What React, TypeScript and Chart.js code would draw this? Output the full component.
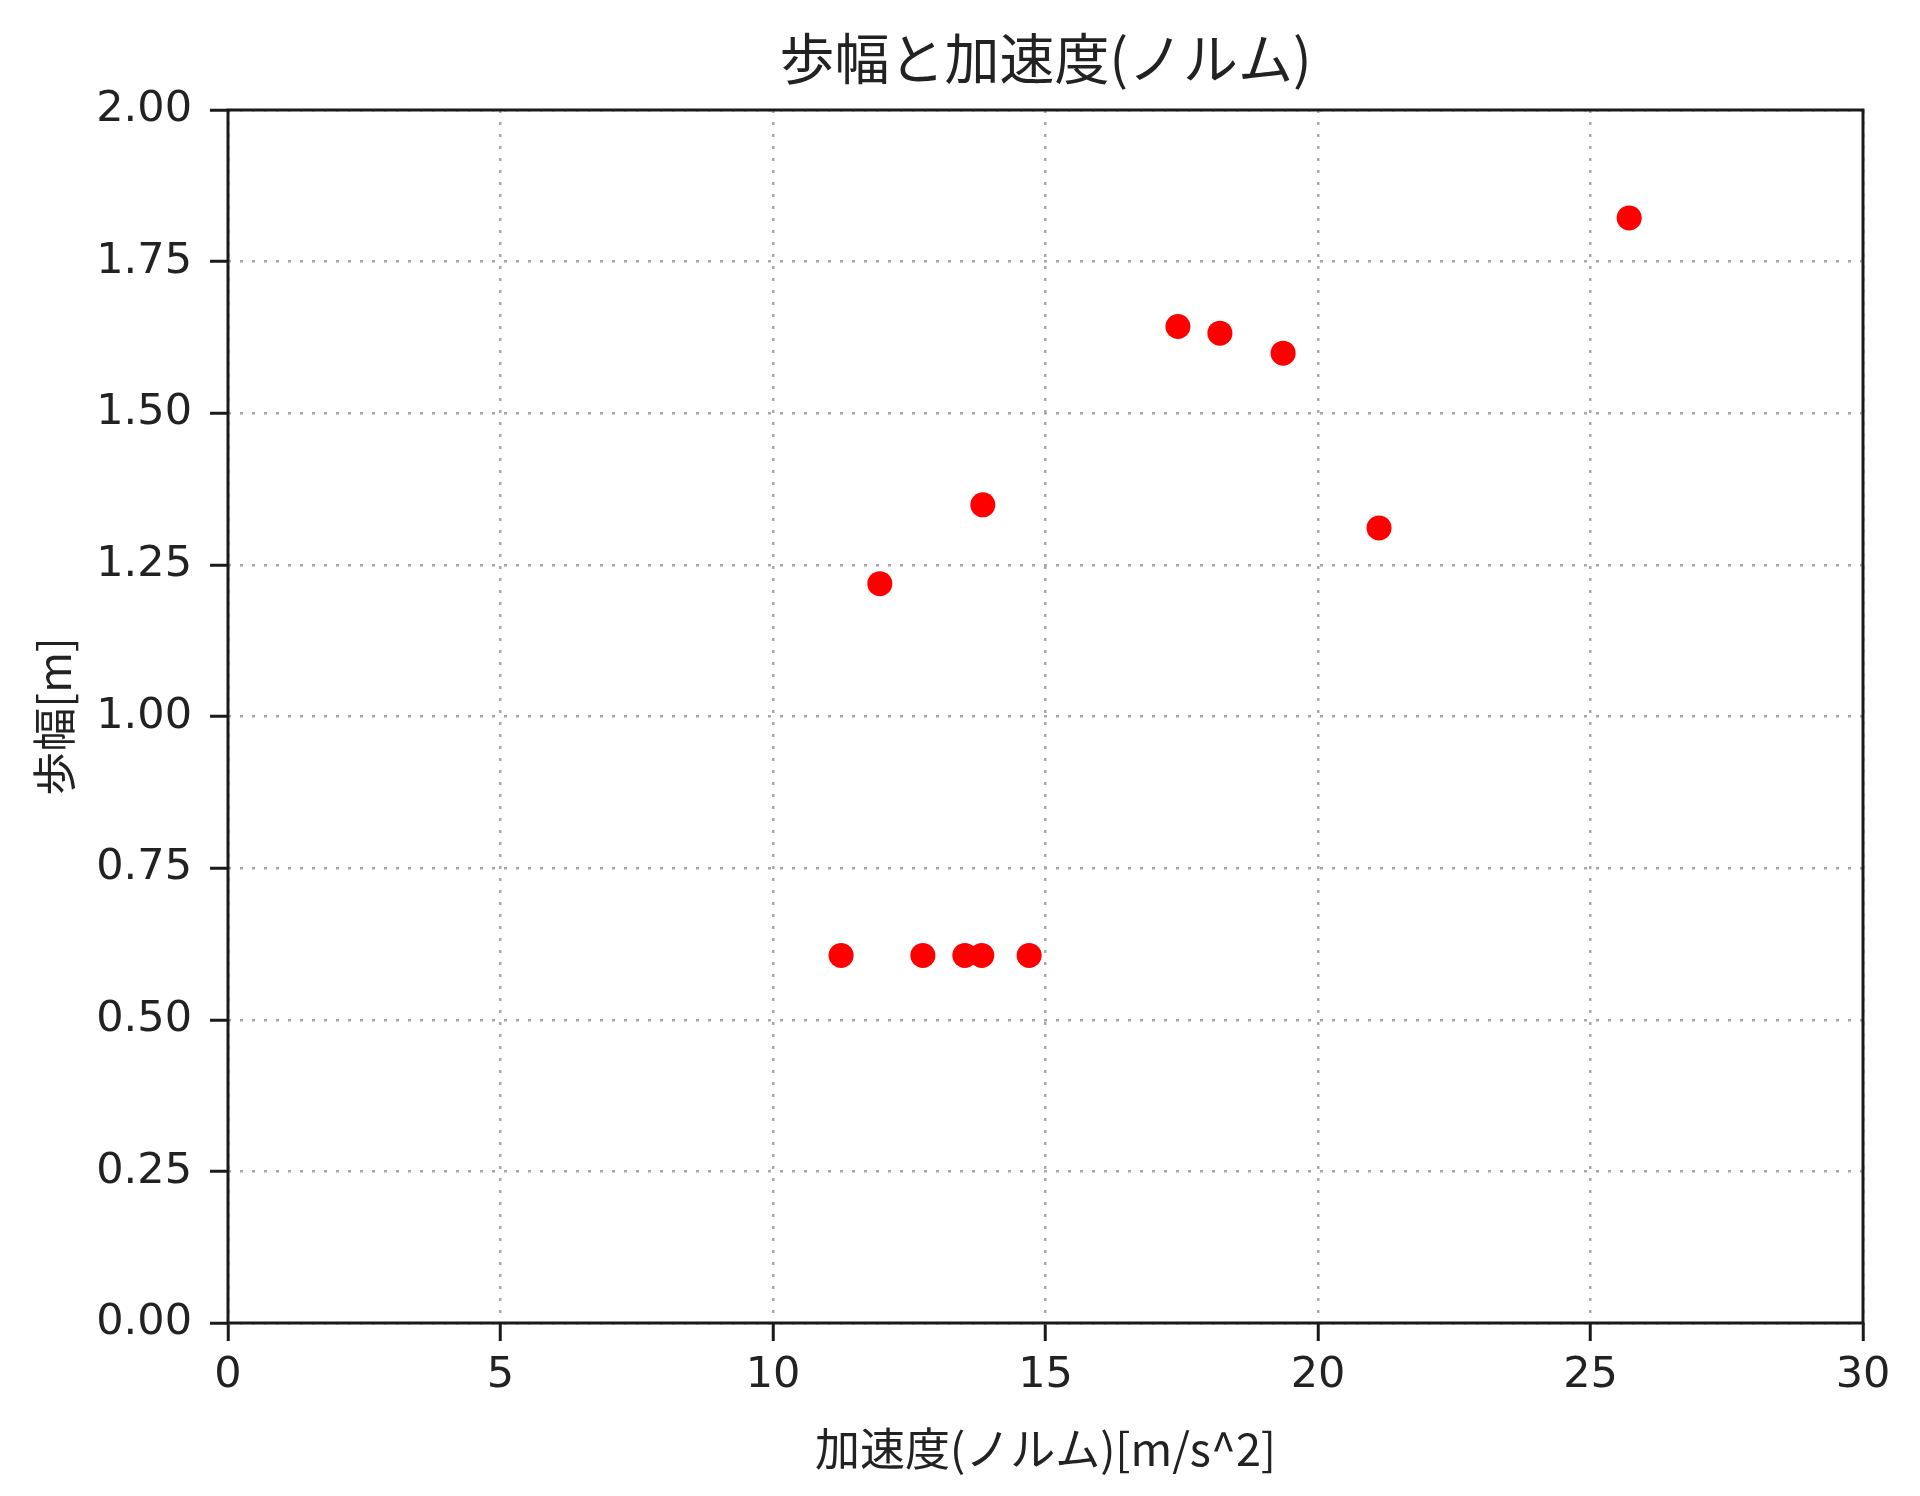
import { useEffect, useRef } from "react";
import Chart, { ChartConfiguration } from "chart.js/auto";

// 加速度(ノルム) と 歩幅 の計測値
const accelNorm = [25.71, 17.43, 18.2, 19.36, 13.85, 21.12, 11.96, 11.25, 12.75, 13.52, 13.83, 14.7];
const strideLength = [1.822, 1.643, 1.632, 1.599, 1.349, 1.311, 1.219, 0.606, 0.606, 0.606, 0.606, 0.606];

const titleText = "歩幅と加速度(ノルム)";
const xLabel = "加速度(ノルム)[m/s^2]";
const yLabel = "歩幅[m]";

const FONT = "'Noto Sans CJK JP', 'Noto Sans', sans-serif";
const TICK_FONT = "'DejaVu Sans', 'Noto Sans CJK JP', sans-serif";
const TEXT = "#222222";
const AXIS = "#1a1a1a";
const GRID = "#a8a8a8";

const App = () => {
  const chartRef = useRef<HTMLCanvasElement | null>(null);

  useEffect(() => {
    document.body.style.margin = "0";
    let myChart: Chart | null = null;

    if (chartRef.current) {
      const config: ChartConfiguration = {
        type: "scatter",
        data: {
          datasets: [
            {
              label: yLabel,
              data: accelNorm.map((x, i) => ({ x, y: strideLength[i] })),
              backgroundColor: "#ff0000",
              borderWidth: 0,
              pointRadius: 12.5,
              pointHoverRadius: 12.5,
            },
          ],
        },
        options: {
          animation: false,
          responsive: false,
          devicePixelRatio: 1,
          layout: { padding: { left: 0, right: 57, top: 0, bottom: 0 } },
          plugins: {
            legend: { display: false },
            tooltip: { enabled: false },
            title: {
              display: true,
              fullSize: false, // プロット領域の中央に合わせる
              text: titleText,
              color: TEXT,
              font: { family: FONT, size: 55, weight: "normal", lineHeight: 1.2 },
              padding: { top: 25, bottom: 19 },
            },
          },
          scales: {
            x: {
              type: "linear",
              position: "bottom",
              min: 0,
              max: 30,
              afterFit: (scale) => {
                scale.height = 173;
              },
              ticks: {
                stepSize: 5,
                color: TEXT,
                padding: 9,
                font: { family: TICK_FONT, size: 43 },
                maxRotation: 0,
              },
              grid: {
                color: GRID,
                lineWidth: 2.5,
                tickColor: AXIS,
                tickWidth: 3,
                tickLength: 18,
                tickBorderDash: [],
              },
              border: { display: false, dash: [3, 9] },
              title: {
                display: true,
                text: xLabel,
                color: TEXT,
                font: { family: FONT, size: 45, lineHeight: 1.2 },
                padding: { top: 0, bottom: 20 },
              },
            },
            y: {
              type: "linear",
              min: 0,
              max: 2,
              afterFit: (scale) => {
                scale.width = 228;
              },
              ticks: {
                stepSize: 0.25,
                color: TEXT,
                padding: 18,
                font: { family: TICK_FONT, size: 43 },
                callback: (v) => Number(v).toFixed(2),
              },
              grid: {
                color: GRID,
                lineWidth: 2.5,
                tickColor: AXIS,
                tickWidth: 3,
                tickLength: 18,
                tickBorderDash: [],
              },
              border: { display: false, dash: [3, 9] },
              title: {
                display: true,
                text: yLabel,
                color: TEXT,
                font: { family: FONT, size: 44, lineHeight: 1.2 },
                padding: { top: 28, bottom: 0 },
              },
            },
          },
        },
        plugins: [
          {
            id: "frame_box",
            afterDatasetsDraw: (chart) => {
              const { ctx, chartArea } = chart;
              ctx.save();
              ctx.strokeStyle = AXIS;
              ctx.lineWidth = 3;
              ctx.strokeRect(
                chartArea.left,
                chartArea.top,
                chartArea.right - chartArea.left,
                chartArea.bottom - chartArea.top
              );
              ctx.restore();
            },
          },
        ],
      };
      myChart = new Chart(chartRef.current, config);
    }
    return () => {
      if (myChart) {
        myChart.destroy();
      }
    };
  }, []);

  return (
    <div style={{ width: 1920, height: 1496, background: "#ffffff" }}>
      <canvas ref={chartRef} width={1920} height={1496} />
    </div>
  );
};

export default App;
